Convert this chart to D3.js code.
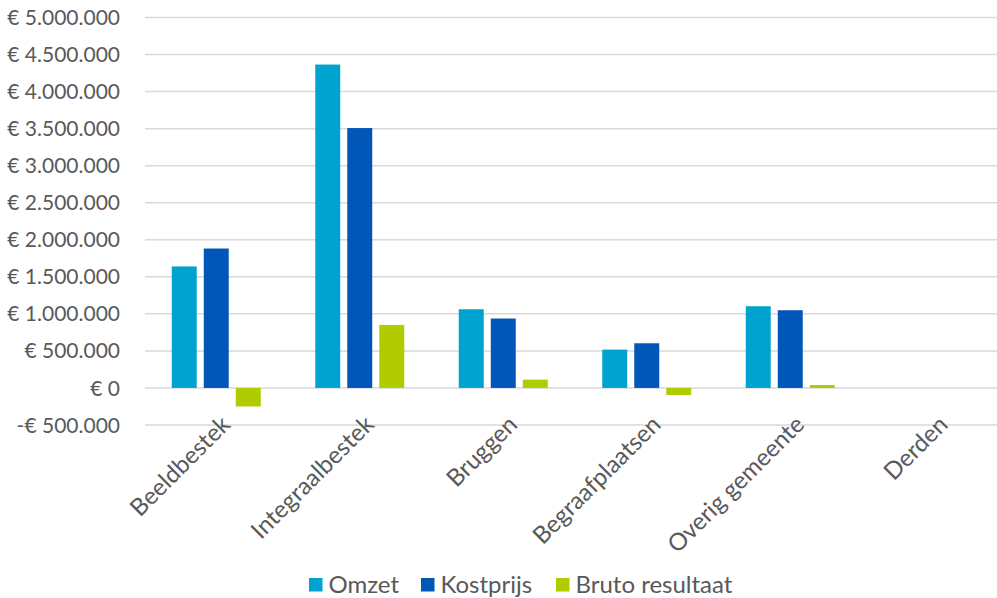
<!DOCTYPE html>
<html>
<head>
<meta charset="utf-8">
<script src="https://cdn.jsdelivr.net/npm/d3@7"></script>
<style>
  body { margin: 0; background: #fff; }
  text { font-family: Lato, "Noto Sans", sans-serif; fill: #595959; }
</style>
</head>
<body>
<svg id="chart" width="997" height="598"></svg>
<script>
const categories = ["Beeldbestek", "Integraalbestek", "Bruggen", "Begraafplaatsen", "Overig gemeente", "Derden"];
const seriesNames = ["Omzet", "Kostprijs", "Bruto resultaat"];
const omzet = [1640000, 4365000, 1062000, 518000, 1103000, 0];
const kostprijs = [1882000, 3508000, 937000, 603000, 1049000, 0];
const brutoResultaat = [-250000, 851000, 112000, -95000, 40000, 0];
const yTicks = [-500000, 0, 500000, 1000000, 1500000, 2000000, 2500000, 3000000, 3500000, 4000000, 4500000, 5000000];
const colors = ["#00A3CF", "#0057B8", "#B0CB00"];

const values = [omzet, kostprijs, brutoResultaat];

const svg = d3.select("#chart");
// the plot runs a little past the right edge of the picture, as in the original
const plotLeft = 144.5, plotRight = 1005.5, plotTop = 17.5, plotBottom = 425;

const x = d3.scaleBand().domain(categories).range([plotLeft, plotRight]);
const y = d3.scaleLinear().domain([-500000, 5000000]).range([plotBottom, plotTop]);

const nl = d3.formatLocale({
  decimal: ",",
  thousands: ".",
  grouping: [3],
  currency: ["€ ", ""],
  minus: "-"
});
const fmt = nl.format("$,.0f");

// gridlines
svg.append("g")
  .selectAll("line")
  .data(yTicks)
  .enter()
  .append("line")
  .attr("x1", 145)
  .attr("x2", 997)
  .attr("y1", (d) => y(d))
  .attr("y2", (d) => y(d))
  .style("stroke", "#d9d9d9")
  .style("stroke-width", 1.5);

// y labels
svg.append("g")
  .selectAll("text")
  .data(yTicks)
  .enter()
  .append("text")
  .attr("x", 120)
  .attr("y", (d) => y(d))
  .attr("dy", "0.36em")
  .attr("text-anchor", "end")
  .style("font-size", "21px")
  .text((d) => fmt(d));

// bars
const inner = d3.scaleBand().domain(d3.range(3)).paddingInner(0.22);

const groups = svg.append("g")
  .selectAll("g.cat")
  .data(categories)
  .enter()
  .append("g")
  .classed("cat", true);

groups.each(function (c, i) {
  const cx = x(c) + x.bandwidth() / 2;
  inner.range([cx - 44.5, cx + 44.5]);
  d3.select(this)
    .selectAll("rect")
    .data(values.map((s, k) => ({ k: k, v: s[i] })))
    .enter()
    .append("rect")
    .attr("x", (d) => inner(d.k))
    .attr("width", inner.bandwidth())
    .attr("y", (d) => Math.min(y(d.v), y(0)))
    .attr("height", (d) => Math.abs(y(d.v) - y(0)))
    .style("fill", (d) => colors[d.k]);
});

// x labels
svg.append("g")
  .selectAll("text")
  .data(categories)
  .enter()
  .append("text")
  .attr("text-anchor", "end")
  .attr("transform", (d) => "translate(" + (x(d) + x.bandwidth() / 2 + 15.5) + "," + 426 + ") rotate(-45)")
  .style("font-size", "24px")
  .text((d) => d);

// legend
const legendX = [309, 421, 556];
const legend = svg.append("g")
  .selectAll("g")
  .data(seriesNames)
  .enter()
  .append("g")
  .attr("transform", (d, i) => "translate(" + legendX[i] + ",578)");

legend.append("rect")
  .attr("width", 13.5)
  .attr("height", 13.5)
  .style("fill", (d, i) => colors[i]);

legend.append("text")
  .attr("x", 19.5)
  .attr("y", 15)
  .style("font-size", "24px")
  .text((d) => d);
</script>
</body>
</html>
